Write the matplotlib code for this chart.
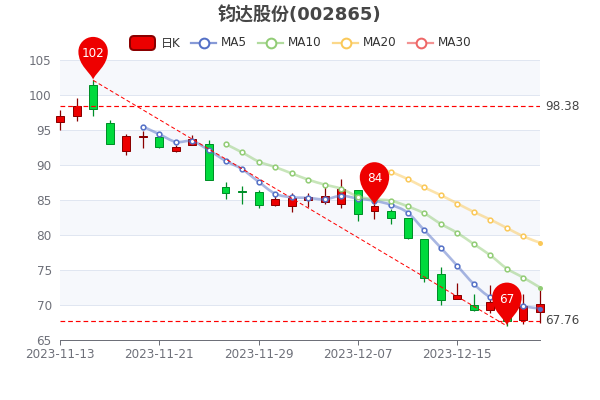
import matplotlib
matplotlib.use('Agg')
import matplotlib.pyplot as plt
from matplotlib.patches import FancyBboxPatch, PathPatch
from matplotlib.path import Path
from matplotlib.transforms import Affine2D
import numpy as np

plt.rcParams['font.family'] = ['DejaVu Sans', 'Noto Sans CJK SC']

dates = ['2023-11-13', '2023-11-14', '2023-11-15', '2023-11-16', '2023-11-17',
         '2023-11-20', '2023-11-21', '2023-11-22', '2023-11-23', '2023-11-24',
         '2023-11-27', '2023-11-28', '2023-11-29', '2023-11-30', '2023-12-01',
         '2023-12-04', '2023-12-05', '2023-12-06', '2023-12-07', '2023-12-08',
         '2023-12-11', '2023-12-12', '2023-12-13', '2023-12-14', '2023-12-15',
         '2023-12-18', '2023-12-19', '2023-12-20', '2023-12-21', '2023-12-22']

opens = [96.2, 97.0, 101.4, 96.0, 92.0, 94.0, 94.05, 92.0, 92.8, 93.0,
         86.8, 86.35, 86.1, 84.3, 84.2, 84.95, 84.65, 84.4, 86.4, 83.5,
         83.4, 82.4, 79.4, 74.5, 70.8, 70.0, 69.3, 69.6, 67.9, 69.0]
closes = [96.95, 98.4, 98.0, 93.0, 94.1, 94.1, 92.55, 92.6, 93.65, 87.8,
          85.95, 86.2, 84.3, 85.2, 85.25, 85.5, 85.5, 86.5, 83.05, 84.1,
          82.5, 79.6, 73.8, 70.7, 71.4, 69.3, 70.4, 67.76, 69.8, 70.2]
lows = [95.0, 96.3, 97.0, 93.0, 91.5, 92.5, 92.4, 91.9, 92.8, 87.8,
        85.2, 84.5, 83.9, 84.2, 83.3, 84.0, 84.4, 83.8, 82.0, 82.3,
        81.6, 79.4, 73.3, 70.0, 70.8, 69.1, 68.8, 67.0, 67.3, 67.5]
highs = [97.9, 99.6, 102.1, 96.4, 94.5, 94.9, 94.2, 92.9, 94.3, 93.6,
         87.6, 87.0, 86.5, 85.6, 86.0, 86.0, 87.1, 88.0, 86.4, 84.5,
         83.7, 82.5, 79.4, 75.4, 73.1, 71.6, 72.8, 70.5, 71.6, 72.1]

ma5 = [None] * 5 + [95.5, 94.4, 93.3, 93.4, 92.1, 90.6, 89.4, 87.6, 85.9, 85.4,
                    85.3, 85.1, 85.6, 85.2, 84.9, 84.3, 83.2, 80.7, 78.2, 75.6,
                    73.0, 71.1, 70.3, 69.8, 69.5]
ma10 = [None] * 10 + [93.0, 91.8, 90.5, 89.7, 88.8, 87.9, 87.2, 86.6, 85.5, 85.1,
                      84.9, 84.1, 83.1, 81.6, 80.3, 78.7, 77.1, 75.2, 73.9, 72.5]
ma20 = [None] * 19 + [89.7, 89.0, 88.0, 86.8, 85.7, 84.5, 83.3, 82.2, 81.0, 79.8, 78.9]

max_line = 98.38
min_line = 67.76
pin_idx = [2, 19, 27]
pin_vals = [102.2, 84.3, 67.1]
pin_labels = ['102', '84', '67']
diag_idx = [2, 27]
diag_vals = [102.1, 67.0]

yticks = [65, 70, 75, 80, 85, 90, 95, 100, 105]
xtick_idx = [0, 6, 12, 18, 24]

UP = '#ec0000'
UP_EDGE = '#8A0000'
DOWN = '#00da3c'
DOWN_EDGE = '#008F28'
GREY = '#6E7079'
BLUE = '#5470c6'
GREEN = '#91cc75'
YELLOW = '#fac858'
PINK = '#ee6666'
DASH = (0, (4, 2.5))


def smooth_path(xs, ys):
    # bezier through the points, like a smooth line in the original
    pts = np.column_stack([xs, ys])
    verts = [pts[0]]
    codes = [Path.MOVETO]
    for i in range(len(pts) - 1):
        prev = pts[max(i - 1, 0)]
        nxt = pts[min(i + 2, len(pts) - 1)]
        verts += [pts[i] + (pts[i + 1] - prev) * 0.17,
                  pts[i + 1] - (nxt - pts[i]) * 0.17,
                  pts[i + 1]]
        codes += [Path.CURVE4] * 3
    return Path(verts, codes)


def pin_path():
    # tip at origin, pixels, y up
    r = 14.7
    c = 28
    k = 0.5523 * r
    verts = [(0, 0),
             (-2.5, 7), (-r, 14), (-r, c),
             (-r, c + k), (-k, c + r), (0, c + r),
             (k, c + r), (r, c + k), (r, c),
             (r, 14), (2.5, 7), (0, 0)]
    codes = [Path.MOVETO] + [Path.CURVE4] * 12
    return Path(verts, codes)


fig = plt.figure(figsize=(6, 4), dpi=100)
ax = fig.add_axes([0.1, 0.15, 0.8, 0.7])
ax.set_xlim(0, 29)
ax.set_ylim(65, 105)

# bands and grid
for lo in [100, 90, 80, 70]:
    ax.axhspan(lo, lo + 5, color='#f6f8fc', lw=0, zorder=0)
ax.set_yticks(yticks)
ax.grid(axis='y', color='#E0E6F1', lw=0.72, zorder=1)
ax.set_axisbelow(True)

# candles
x = np.arange(len(dates))
for i in x:
    up = closes[i] >= opens[i]
    edge = UP_EDGE if up else DOWN_EDGE
    face = UP if up else DOWN
    ax.vlines(i, lows[i], highs[i], color=edge, lw=0.9, zorder=3, clip_on=False)
    ax.bar(i, abs(closes[i] - opens[i]), width=0.48, bottom=min(opens[i], closes[i]),
           color=face, edgecolor=edge, lw=0.72, zorder=4, clip_on=False)

# moving averages
for vals, col in [(ma5, BLUE), (ma10, GREEN), (ma20, YELLOW)]:
    xs = [i for i, v in enumerate(vals) if v is not None]
    ys = [v for v in vals if v is not None]
    ax.add_patch(PathPatch(smooth_path(xs, ys), fill=False, edgecolor=col, lw=1.9,
                           alpha=0.5, zorder=5, clip_on=False))
    ax.plot(xs[:-1], ys[:-1], ls='none', marker='o', ms=3.4, mfc='white', mec=col, mew=1.1,
            zorder=6, clip_on=False)
    ax.plot(xs[-1:], ys[-1:], ls='none', marker='o', ms=3.6, mfc=col, mec=col, mew=0,
            zorder=6, clip_on=False)

# mark lines
ax.axhline(max_line, color='#ff0000', lw=0.85, ls=DASH, zorder=7)
ax.axhline(min_line, color='#ff0000', lw=0.85, ls=DASH, zorder=7)
ax.plot(diag_idx, diag_vals, color='#ff0000', lw=0.72, ls=DASH, zorder=7)
for v in [max_line, min_line]:
    ax.annotate(f'{v:.2f}', xy=(1, v), xycoords=('axes fraction', 'data'), xytext=(5, 0),
                textcoords='offset pixels', va='center', ha='left', fontsize=8.64,
                color='#464646')

# axes
for s in ['top', 'right', 'left']:
    ax.spines[s].set_visible(False)
ax.spines['bottom'].set_color(GREY)
ax.spines['bottom'].set_linewidth(0.72)
ax.set_xticks(xtick_idx)
ax.set_xticklabels([dates[i] for i in xtick_idx])
ax.tick_params(axis='x', color=GREY, length=3.6, width=0.72, labelcolor=GREY,
               labelsize=8.64, pad=2)
ax.tick_params(axis='y', length=0, labelcolor=GREY, labelsize=8.64, pad=6)

# pins
fig.canvas.draw()
for i, v, lab in zip(pin_idx, pin_vals, pin_labels):
    tip = ax.transData.transform((i, v))
    ax.add_patch(PathPatch(pin_path(), transform=Affine2D().translate(*tip), facecolor='#ee0000',
                           edgecolor='none', zorder=9, clip_on=False))
    ax.annotate(lab, xy=(i, v), xytext=(0, 26), textcoords='offset pixels', ha='center',
                va='center', color='white', fontsize=8.64, zorder=10)

# title and legend, in pixel coordinates
top = fig.add_axes([0, 0, 1, 1], facecolor='none')
top.set_xlim(0, 600)
top.set_ylim(400, 0)
top.axis('off')
top.set_zorder(-1)
top.text(300, 14, '钧达股份(002865)', ha='center', va='center_baseline', fontsize=13,
         fontweight='bold', color='#464646')

top.add_patch(FancyBboxPatch((130, 36), 25, 14, boxstyle='round,pad=0,rounding_size=4',
                             facecolor=UP, edgecolor=UP_EDGE, lw=1.44, mutation_aspect=1))
top.text(161, 43, '日K', ha='left', va='center', fontsize=8.64, color='#333333')
for x0, col, lab in [(191, BLUE, 'MA5'), (258, GREEN, 'MA10'), (333, YELLOW, 'MA20'), (408, PINK, 'MA30')]:
    top.plot([x0, x0 + 25], [43, 43], color=col, lw=1.6, alpha=0.7)
    top.plot([x0 + 12.5], [43], marker='o', ms=7, mfc='white', mec=col, mew=1.44)
    top.text(x0 + 30, 43, lab, ha='left', va='center', fontsize=8.64, color='#333333')

fig.savefig('out.png', dpi=100)
